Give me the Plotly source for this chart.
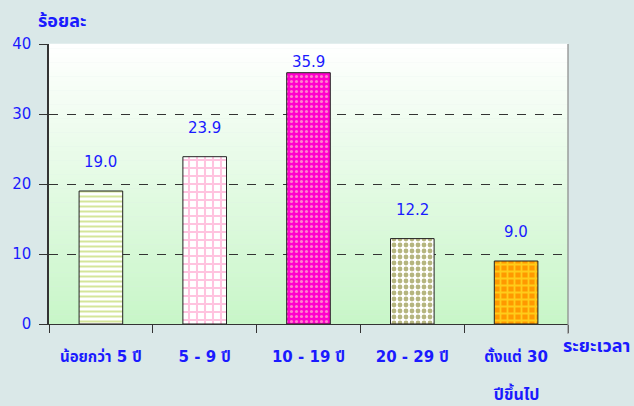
import plotly.graph_objects as go

categories = ["น้อยกว่า 5 ปี", "5 - 9 ปี", "10 - 19 ปี", "20 - 29 ปี", "ตั้งแต่ 30 ปีขึ้นไป"]
tick_lines = [["น้อยกว่า 5 ปี"], ["5 - 9 ปี"], ["10 - 19 ปี"], ["20 - 29 ปี"], ["ตั้งแต่ 30", "ปีขึ้นไป"]]
values = [19.0, 23.9, 35.9, 12.2, 9.0]
value_labels = ["19.0", "23.9", "35.9", "12.2", "9.0"]
y_ticks = [0, 10, 20, 30, 40]

BLUE = "#1a1aff"
FONT = "Tahoma, 'DejaVu Sans', 'Noto Sans Thai', Loma, sans-serif"

patterns = [
    dict(shape="-", fgcolor="#a9cc33", bgcolor="#ffffff", size=5, solidity=0.4),
    dict(shape="+", fgcolor="#ff88c0", bgcolor="#ffffff", size=8, solidity=0.45),
    dict(shape=".", fgcolor="#ffffcc", bgcolor="#ff00cc", size=5, solidity=0.3),
    dict(shape=".", fgcolor="#6b6b00", bgcolor="#ffffff", size=6, solidity=0.5),
    dict(shape="+", fgcolor="#ffff33", bgcolor="#ff9900", size=7, solidity=0.45),
]

fig = go.Figure()
for i, (c, v) in enumerate(zip(categories, values)):
    fig.add_trace(go.Bar(
        x=[c], y=[v], width=0.42,
        marker=dict(color=patterns[i]["bgcolor"], pattern=patterns[i],
                    line=dict(color="#222222", width=1)),
        showlegend=False, hoverinfo="skip",
    ))

W, H = 634, 406
ml, mr, mt, mb = 49, 66, 44, 82
pw, ph = W - ml - mr, H - mt - mb

def px_x(x):
    return (x - ml) / pw

def px_y(y):
    return 1 - (y - mt) / ph

# gradient background strips
n = 60
top = (255, 255, 255)
bot = (200, 246, 200)
shapes = []
for k in range(n):
    t = (k + 0.5) / n
    col = tuple(int(round(top[j] + (bot[j] - top[j]) * t)) for j in range(3))
    shapes.append(dict(type="rect", xref="x domain", yref="y domain",
                       x0=0, x1=1, y0=1 - (k + 1) / n, y1=1 - k / n + 0.001,
                       fillcolor="rgb(%d,%d,%d)" % col, line=dict(width=0), layer="below"))
shapes.append(dict(type="line", xref="x domain", yref="y domain", x0=1, x1=1, y0=-0.035, y1=1,
                   line=dict(color="#888888", width=1.2)))

annotations = []
for c, v, lab in zip(categories, values, value_labels):
    annotations.append(dict(x=c, y=v, text=lab, showarrow=False, xref="x", yref="y",
                            yshift=29 if v < 33 else 11,
                            font=dict(color=BLUE, size=15, family=FONT)))
for c, lines in zip(categories, tick_lines):
    for li, line in enumerate(lines[1:], start=1):
        annotations.append(dict(x=c, xref="x", y=px_y(362 + 31 * li), yref="paper",
                                text="<b>%s</b>" % line, showarrow=False, yanchor="middle",
                                font=dict(color=BLUE, size=16, family=FONT)))
annotations.append(dict(x=px_x(36), y=px_y(20), xref="paper", yref="paper",
                        xanchor="left", yanchor="middle",
                        text="<b>ร้อยละ</b>", showarrow=False,
                        font=dict(color=BLUE, size=18, family=FONT)))
annotations.append(dict(x=px_x(561), y=px_y(345), xref="paper", yref="paper",
                        xanchor="left", yanchor="middle",
                        text="<b>ระยะเวลา</b>", showarrow=False,
                        font=dict(color=BLUE, size=18, family=FONT)))

fig.update_layout(
    width=W, height=H,
    margin=dict(l=ml, r=mr, t=mt, b=mb, pad=0),
    paper_bgcolor="#dae8e8",
    plot_bgcolor="rgba(0,0,0,0)",
    shapes=shapes,
    annotations=annotations,
    font=dict(family=FONT, color=BLUE, size=15),
)
fig.update_xaxes(
    type="category", categoryorder="array", categoryarray=categories,
    tickmode="array", tickvals=categories, ticktext=["<b>%s</b>" % l[0] for l in tick_lines],
    tickson="boundaries", ticks="outside", ticklen=8, tickcolor="#333333",
    showline=True, linecolor="#333333", linewidth=1, showgrid=False,
    tickfont=dict(color=BLUE, size=15, family=FONT), ticklabelstandoff=19,
)
fig.update_yaxes(
    range=[0, 40], tickvals=y_ticks, ticks="outside", ticklen=8, tickcolor="#333333",
    showline=True, linecolor="#333333", linewidth=1.5,
    showgrid=True, gridcolor="#333333", griddash="dash", gridwidth=1,
    zeroline=False, ticklabelstandoff=5,
    tickfont=dict(color=BLUE, size=15, family=FONT),
)
fig.write_html("out.html", post_script="document.body.style.margin='0';",
               config={"displayModeBar": False})
